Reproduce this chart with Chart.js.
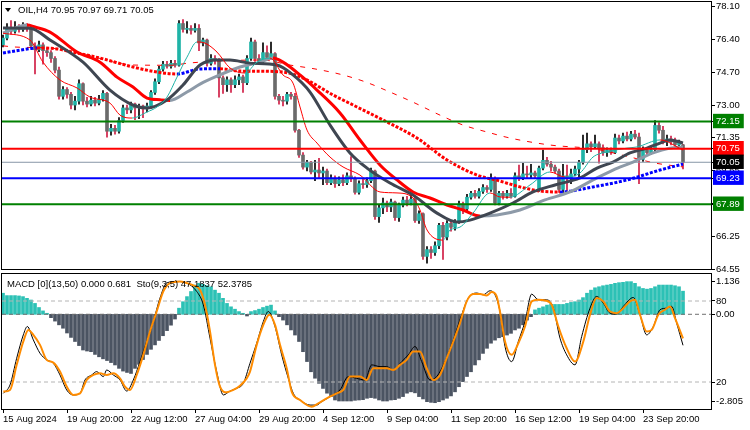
<!DOCTYPE html>
<html>
<head>
<meta charset="UTF-8">
<title>OIL H4</title>
<script src="https://cdn.jsdelivr.net/npm/chart.js@4.4.1/dist/chart.umd.min.js"></script>
<style>
  body { margin: 0; background: #fff; }
  #wrap { position: relative; width: 750px; height: 430px; overflow: hidden; font-family: "Liberation Sans", Arial, sans-serif; }
  #mainCanvas { position: absolute; left: 0; top: 0; }
  #subCanvas { position: absolute; left: 0; top: 271px; }
  .txt { position: absolute; font-size: 9.5px; line-height: 12px; color: #000; white-space: pre; z-index: 2; }
  #tri { position: absolute; left: 5px; top: 8px; width: 0; height: 0; border-left: 3px solid transparent; border-right: 3px solid transparent; border-top: 4px solid #000; z-index: 2; }
</style>
</head>
<body>
<div id="wrap">
  <canvas id="mainCanvas" width="750" height="276"></canvas>
  <canvas id="subCanvas" width="750" height="159"></canvas>
  <div id="tri"></div>
  <div class="txt" style="left:18px; top:4px;">OIL,H4 70.95 70.97 69.71 70.05</div>
  <div class="txt" style="left:7px; top:278px;">MACD [0](13,50) 0.000 0.681  Sto(9,3,5) 47.1837 52.3785</div>
</div>

<script>
// ---- price bars (H4), one per bar index ----
const opens = [
  76.10,76.45,76.95,76.80,77.00,76.90,77.05,76.95,76.05,75.85,
  76.10,75.80,75.70,75.40,74.80,73.45,73.80,73.55,73.00,73.20,
  74.10,73.20,73.05,73.25,73.10,73.30,73.60,71.65,71.80,71.65,
  72.20,72.85,72.75,73.05,72.85,72.95,72.80,72.95,73.65,74.20,
  74.85,75.10,75.00,75.15,75.05,77.20,76.90,76.95,76.85,76.95,
  76.20,76.35,75.15,75.40,75.30,74.40,74.05,74.30,74.05,74.30,
  74.45,74.15,75.40,76.25,75.40,75.25,75.70,75.45,75.65,73.45,
  73.25,73.20,73.55,73.45,71.70,70.42,69.80,70.05,69.55,69.65,
  69.50,69.60,69.00,69.20,68.95,69.15,69.00,69.35,69.20,68.50,
  68.95,68.90,69.10,69.60,67.25,67.70,67.95,67.75,68.00,67.20,
  67.85,68.10,67.95,68.15,67.05,67.40,65.20,65.55,65.40,65.75,
  66.80,66.20,66.90,66.70,67.00,67.90,67.65,68.25,68.45,68.30,
  68.55,68.75,68.65,69.20,67.95,68.45,68.30,68.45,68.30,69.35,
  69.25,69.45,69.40,69.50,68.65,69.75,70.15,69.95,69.80,69.60,
  68.65,69.35,69.20,69.45,69.70,70.05,70.70,71.00,70.85,71.00,
  70.80,70.55,70.70,70.55,71.30,71.15,71.40,71.25,71.50,71.35,
  70.20,70.70,70.55,70.70,71.95,71.70,71.10,71.25,71.10,70.95,
  70.95
];
const highs = [
  76.60,77.20,77.35,77.30,77.15,77.25,77.20,77.05,76.20,76.30,
  76.20,75.95,75.80,75.50,74.95,73.95,73.90,73.65,73.45,74.30,
  74.15,73.40,73.45,73.40,73.50,73.75,73.65,72.00,71.95,72.35,
  73.00,73.00,73.15,73.10,73.05,73.00,73.10,73.75,74.35,75.00,
  75.25,75.25,75.30,75.30,77.35,77.40,77.30,77.10,77.20,77.15,
  76.45,76.40,75.60,75.55,75.40,74.50,74.45,74.40,74.50,74.60,
  74.55,75.55,76.45,76.35,75.60,76.20,76.05,76.25,75.70,73.55,
  73.45,73.65,73.65,73.60,71.75,70.55,70.15,70.10,70.15,70.25,
  69.80,69.70,69.40,69.35,69.30,69.40,69.50,70.35,69.30,69.10,
  69.20,69.25,69.75,69.65,67.85,68.20,68.05,68.15,68.05,67.95,
  68.25,68.30,68.35,68.30,67.55,67.45,65.70,65.70,65.95,66.90,
  66.95,67.05,67.00,67.10,68.05,68.00,68.40,68.55,68.60,68.70,
  68.90,68.85,69.45,69.30,68.55,68.55,68.60,68.70,69.50,69.90,
  70.00,69.85,69.95,69.60,69.85,70.68,70.30,70.10,69.90,69.70,
  69.95,69.90,69.70,69.85,70.15,71.45,71.55,71.10,71.45,71.10,
  70.95,70.80,70.80,71.50,71.45,71.55,71.60,71.65,71.70,71.55,
  70.85,70.80,70.85,72.20,72.10,71.90,71.45,71.40,71.30,71.20,
  70.97
];
const lows = [
  76.00,76.35,76.65,76.70,76.75,76.80,76.80,75.95,74.60,75.75,
  75.10,75.50,75.20,74.65,73.30,73.30,73.35,72.80,72.75,73.05,
  73.00,72.90,72.95,72.95,73.00,73.20,71.35,71.45,71.50,71.55,
  72.10,72.55,72.60,72.25,72.30,72.35,72.65,72.85,73.55,74.10,
  74.75,74.90,74.90,74.95,75.00,76.75,76.70,76.65,76.75,75.80,
  76.05,75.00,75.05,75.10,73.40,73.60,73.70,73.65,73.90,74.05,
  73.65,74.05,75.30,75.25,75.10,75.15,75.35,75.35,73.30,73.05,
  72.95,73.05,73.30,71.60,70.30,69.70,69.60,69.45,69.10,69.25,
  68.90,68.90,68.90,68.75,68.85,68.85,68.90,69.05,68.40,68.40,
  68.70,68.75,69.00,67.10,66.95,67.40,67.50,67.50,67.05,67.00,
  67.75,67.80,67.85,66.95,66.90,65.05,64.85,65.10,65.25,65.60,
  65.05,66.05,66.50,66.55,66.90,67.40,67.55,68.15,68.20,68.20,
  68.45,68.50,68.55,67.85,67.85,68.15,68.20,68.20,68.25,69.10,
  69.15,69.20,69.20,69.25,68.55,69.65,69.85,69.60,69.50,68.50,
  68.45,68.60,68.95,69.35,69.30,69.95,70.55,70.60,70.75,70.00,
  70.40,70.35,70.45,70.50,71.00,71.05,71.15,71.15,71.25,68.95,
  70.10,70.40,70.45,70.65,71.55,71.00,70.90,70.95,70.80,70.85,
  69.71
];
const closes = [
  76.45,76.95,76.80,77.00,76.90,77.05,76.95,76.05,75.85,76.10,
  75.80,75.70,75.40,74.80,73.45,73.80,73.55,73.00,73.20,74.10,
  73.20,73.05,73.25,73.10,73.30,73.60,71.65,71.80,71.65,72.20,
  72.85,72.75,73.05,72.85,72.95,72.80,72.95,73.65,74.20,74.85,
  75.10,75.00,75.15,75.05,77.20,76.90,76.95,76.85,76.95,76.20,
  76.35,75.15,75.40,75.30,74.40,74.05,74.30,74.05,74.30,74.45,
  74.15,75.40,76.25,75.40,75.25,75.70,75.45,75.65,73.45,73.25,
  73.20,73.55,73.45,71.70,70.42,69.80,70.05,69.55,69.65,69.50,
  69.60,69.00,69.20,68.95,69.15,69.00,69.35,69.20,68.50,68.95,
  68.90,69.10,69.60,67.25,67.70,67.95,67.75,68.00,67.20,67.85,
  68.10,67.95,68.15,67.05,67.40,65.20,65.55,65.40,65.75,66.80,
  66.20,66.90,66.70,67.00,67.90,67.65,68.25,68.45,68.30,68.55,
  68.75,68.65,69.20,67.95,68.45,68.30,68.45,68.30,69.35,69.25,
  69.45,69.40,69.50,69.35,69.75,70.15,69.95,69.80,69.60,68.65,
  69.35,69.20,69.45,69.70,70.05,70.70,71.00,70.85,71.00,70.80,
  70.55,70.70,70.55,71.30,71.15,71.40,71.25,71.50,71.35,70.20,
  70.70,70.55,70.70,71.95,71.70,71.10,71.25,71.10,70.95,71.05,
  70.05
];

// ---- moving averages as [bar, price] ----
const maFast = [[0,76.70],[6.75,76.35],[10,75.21],[14.25,74.29],[18.5,73.88],[21.75,73.41],[26.75,73.10],[29.25,72.48],[32.25,72.33],[36,72.64],[38.5,72.90],[41,73.41],[43.5,74.44],[46,75.47],[48.5,76.25],[50.5,76.19],[53.5,75.73],[56.75,74.91],[60.5,74.65],[63.5,75.21],[66.75,75.42],[70,74.55],[72.5,74.13],[74.25,72.90],[76,71.71],[78.5,71.04],[81.75,70.32],[85,69.81],[89.25,69.39],[94.25,68.52],[98.5,68.47],[102.5,68.21],[104.25,67.59],[106,66.56],[110,66.04],[111.75,66.56],[114.25,66.71],[117.5,67.43],[121.75,68.47],[124.25,68.26],[126.75,68.25],[131.75,68.88],[136.75,69.55],[140.5,69.29],[144.25,69.50],[147.5,70.32],[151,70.58],[156,70.78],[158.5,70.84],[164.25,71.20],[170,70.68]];
const maMid = [[0,76.71],[6,77.12],[8,77.02],[11.75,76.76],[18.5,75.73],[24.25,75.21],[28.5,74.44],[32.5,73.93],[36,73.36],[39.25,73.27],[41.75,73.24],[46,73.67],[49.25,74.08],[53.5,74.49],[59.25,74.96],[64.25,75.21],[67.5,75.42],[70,75.21],[74.25,74.55],[78.5,73.77],[84.25,72.59],[89.25,71.20],[94.25,69.91],[98.5,69.14],[102.5,68.52],[106.75,68.21],[111,67.85],[115,67.59],[119.25,67.28],[123.5,67.33],[129.25,67.59],[135.5,68.11],[141.75,68.52],[147.5,69.14],[152.5,69.65],[157.5,70.06],[162.5,70.53],[166.75,70.78],[170,70.84]];
const maSlow = [[0,76.97],[6.75,76.96],[11.75,76.35],[20,75.21],[26.75,73.77],[32.5,73.00],[36,72.85],[41,73.26],[45,74.03],[49.25,75.06],[53.5,75.32],[56.75,75.32],[61.75,75.16],[68.5,75.06],[72.5,74.55],[76.75,73.67],[81.75,71.97],[86.75,70.53],[91,69.75],[96.75,68.98],[102.5,68.36],[108.5,67.43],[113.5,66.97],[116.75,67.07],[121.75,67.43],[127.5,67.95],[132.5,68.52],[138,68.88],[144.25,69.24],[148.5,69.75],[152.5,70.06],[156.75,70.53],[161,70.78],[164.25,71.04],[166.75,71.20],[170,71.04]];
const maDots = [[0,75.68],[4.25,75.83],[8.5,75.94],[11.75,75.93],[18.5,75.68],[24.25,75.42],[32.5,74.96],[38.5,74.70],[43.5,74.60],[49.25,74.86],[54.25,74.87],[59.25,74.75],[64.25,74.74],[70,74.70],[75,74.39],[82.5,73.52],[88.5,72.90],[95,72.23],[103.5,71.30],[111,70.17],[118.5,69.39],[124.25,69.08],[129.25,68.78],[134.25,68.57],[139.25,68.52],[147.5,68.78],[156,69.14],[164.25,69.65],[170,69.96]];
const maLong = [[0,76.05],[3,75.99],[11.25,75.94],[16.25,75.83],[19.25,75.68],[33,75.06],[42.25,75.05],[46.25,75.16],[64.75,75.32],[71.75,75.06],[78,74.86],[85,74.55],[90.75,74.18],[96.75,73.67],[103,73.10],[109.25,72.48],[115,71.97],[121,71.61],[126.75,71.30],[136.75,70.94],[148,70.73],[156.75,70.32],[163,70.01],[170,69.81]];

// ---- horizontal levels and axis ticks ----
const levelPrices = [72.15, 70.75, 70.05, 69.23, 67.89];
const levelColors = ['#008000', '#ff0000', '#000000', '#0000ff', '#008000'];
const priceTicks = [78.10, 76.40, 74.70, 73.00, 71.35, 69.65, 67.95, 66.25, 64.55];
const dateTickBars = [0, 16, 32, 48, 64, 80, 96, 112, 128, 144, 160];
const dateLabels = ['15 Aug 2024', '19 Aug 20:00', '22 Aug 12:00', '27 Aug 04:00', '29 Aug 20:00', '4 Sep 12:00', '9 Sep 04:00', '11 Sep 20:00', '16 Sep 12:00', '19 Sep 04:00', '23 Sep 20:00'];

// ---- MACD histogram (one per bar) and stochastic ----
const macdHist = [
  0.62,0.55,0.55,0.55,0.54,0.52,0.47,0.42,0.32,0.20,0.10,0.03,
  -0.10,-0.20,-0.31,-0.41,-0.55,-0.68,-0.80,-0.92,-1.05,-1.08,-1.10,-1.18,-1.25,-1.31,-1.36,-1.42,-1.49,-1.59,-1.67,-1.71,
  -1.74,-1.59,-1.47,-1.33,-1.18,-1.03,-0.90,-0.77,-0.63,-0.48,-0.32,-0.14,
  0.18,0.37,0.52,0.67,0.86,0.91,0.88,0.84,0.81,0.71,0.62,0.47,0.32,0.22,0.15,0.08,0.03,
  -0.05,
  0.08,0.11,0.15,0.20,0.24,0.27,0.10,
  -0.07,-0.17,-0.31,-0.46,-0.61,-0.80,-1.10,-1.39,-1.69,-1.88,-2.03,-2.18,-2.32,-2.42,-2.52,-2.55,-2.55,-2.55,-2.55,
  -2.53,-2.52,-2.51,-2.47,-2.45,-2.47,-2.52,-2.55,-2.55,-2.52,-2.51,-2.47,-2.42,-2.32,-2.28,-2.31,-2.42,-2.49,-2.57,
  -2.59,-2.60,-2.57,-2.52,-2.47,-2.40,-2.28,-2.13,-1.98,-1.83,-1.69,-1.49,-1.34,-1.15,-1.00,-0.85,-0.76,
  -0.69,-0.66,-0.61,-0.56,-0.46,-0.41,-0.31,-0.17,-0.07,
  0.13,0.18,0.22,0.27,0.29,0.29,0.29,0.29,0.32,0.35,0.37,0.42,0.49,0.62,0.71,0.78,
  0.81,0.84,0.86,0.88,0.91,0.93,0.94,0.96,0.96,0.91,0.81,0.76,0.74,0.76,0.81,0.86,
  0.86,0.86,0.86,0.84,0.81,0.68
];
const stochMain = [[0.08,11.6],[1.75,17.8],[3.42,37.6],[5.08,54.9],[6.08,61.1],[7.58,51.2],[9.25,41.3],[10.92,36.4],[12.58,33.9],[14.25,25.2],[15.92,14.1],[17.58,10.4],[19.25,11.6],[20.5,21.5],[22.17,25.2],[23.42,27.7],[25.08,24.0],[25.92,28.9],[27.58,25.2],[29.25,21.5],[30.92,13.3],[32.58,21.5],[34.25,35.1],[35.92,50.0],[37.58,64.8],[39.25,82.2],[40.92,93.3],[43.42,94.5],[45.92,93.3],[48.42,87.1],[50.08,77.2],[51.75,52.5],[53.42,27.7],[55.08,10.4],[56.75,13.3],[58.42,15.3],[60.08,19.0],[61.75,33.9],[63.42,48.7],[65.08,64.8],[66.33,72.2],[68,61.1],[69.67,40.1],[71.33,22.7],[72.58,11.6],[74.25,6.7],[76.75,2.9],[78.42,2.9],[79.67,5.4],[81.75,9.1],[84.25,14.1],[86.33,24.0],[88.42,22.7],[90.5,21.5],[92.17,32.7],[94.25,31.4],[95.92,31.4],[97.58,28.9],[99.67,35.1],[101.33,40.1],[103,46.3],[104.67,35.1],[106.75,21.5],[108.42,24.0],[110.5,35.1],[112.58,51.2],[114.67,69.8],[116.33,82.2],[118.42,85.9],[120.08,84.6],[121.75,87.6],[123,84.6],[124.25,72.2],[125.5,46.3],[127.17,35.1],[128.83,50.0],[130.5,64.8],[132.17,85.1],[133.83,80.9],[135.92,80.9],[137.58,74.7],[139.25,52.5],[140.92,40.1],[143,32.7],[144.67,53.7],[146.75,74.7],[148.42,83.4],[150.08,78.4],[151.75,71.0],[153.42,70.3],[155.08,76.0],[157.58,82.6],[159.25,69.8],[160.92,54.9],[162.58,61.1],[164.25,73.5],[165.92,74.7],[167.17,76.0],[168.42,63.6],[170,47.18]];
const stochSignal = [[0.08,12.9],[1.75,14.1],[3.42,32.7],[5.08,50.0],[6.33,58.6],[7.58,54.9],[9.25,47.5],[10.92,36.4],[12.58,34.4],[14.25,27.7],[15.92,16.6],[17.58,10.4],[19.25,11.6],[20.92,21.5],[22.58,25.2],[24.25,26.5],[25.92,25.2],[27.58,26.5],[29.25,22.7],[30.5,16.6],[31.75,14.1],[33.42,25.2],[35.08,40.1],[36.75,57.4],[38.42,72.2],[40.08,87.1],[41.75,93.3],[44.25,94.5],[45.92,93.3],[47.58,91.6],[49.25,88.3],[50.5,77.2],[51.75,57.4],[53,32.7],[54.25,16.6],[55.92,12.4],[57.58,14.1],[59.25,17.3],[60.92,22.7],[61.75,27.7],[63.42,47.5],[65.08,62.3],[66.58,69.8],[68,62.3],[69.25,47.5],[70.92,30.2],[72.17,12.9],[74.25,6.7],[77.17,1.7],[78.83,4.2],[80.92,7.9],[83.42,11.6],[85.08,14.1],[86.75,24.0],[89.25,24.0],[90.92,21.5],[92.58,30.2],[94.25,30.2],[95.92,30.2],[97.58,28.9],[99.25,32.7],[100.92,36.4],[102.58,42.6],[104.25,42.6],[105.92,30.2],[107.58,21.5],[109.25,25.2],[110.92,37.6],[112.58,50.0],[114.25,63.6],[115.92,79.7],[117.58,85.1],[119.25,85.1],[120.92,84.1],[122.17,86.6],[123.42,83.4],[124.25,72.0],[125.5,50.0],[127.17,40.1],[128.83,48.7],[130.5,61.1],[132.17,79.7],[133.83,80.9],[135.5,80.4],[137.17,77.2],[138.83,61.1],[140.92,45.0],[143,35.1],[145.08,50.0],[146.75,69.8],[148.42,82.2],[150.08,79.7],[151.75,72.2],[153.42,71.0],[155.08,74.7],[156.75,79.7],[158,80.9],[159.25,69.8],[160.92,57.4],[162.17,58.6],[163.83,69.8],[165.5,73.5],[166.75,76.0],[168,67.3],[170,52.38]];
const stochLevels = [80, 20];

const xMin = -0.25, xMax = 177;
const macdMin = -2.785, macdMax = 1.185;

const TEAL = '#1fb3a7', GREY = '#6b6b6b', CRIMSON = '#d01c44';
const font = { family: '"Liberation Sans", Arial, sans-serif', size: 9.5 };

const pts = arr => arr.map(p => ({ x: p[0], y: p[1] }));
const hline = y => [{ x: xMin, y: y }, { x: xMax, y: y }];
const slopeColor = (down, up) => ctx => ctx.p1.parsed.y < ctx.p0.parsed.y ? down : up;
// keep the plot area where the layout padding puts it
const noEdgePadding = s => { s.paddingTop = 0; s.paddingBottom = 0; s.paddingLeft = 0; s.paddingRight = 0; };

// draws the black frame round the plot area
const framePlugin = {
  id: 'frame',
  afterDraw(chart) {
    const { ctx, chartArea: a } = chart;
    ctx.save();
    ctx.strokeStyle = '#000';
    ctx.lineWidth = 1;
    ctx.strokeRect(a.left - 0.5, a.top - 0.5, a.right - a.left + 1, a.bottom - a.top + 1);
    ctx.restore();
  }
};

const common = {
  responsive: false,
  animation: false,
  events: [],
  plugins: { legend: { display: false }, tooltip: { enabled: false } }
};

// ---------- main price panel ----------
const mainSets = [];
levelPrices.forEach((p, k) => {
  mainSets.push({
    type: 'line', data: hline(p), borderColor: k === 2 ? '#8796a6' : levelColors[k],
    borderWidth: k === 2 ? 1 : 2, pointRadius: 0, order: 0
  });
});
mainSets.push({ type: 'line', data: pts(maFast), borderColor: TEAL, borderWidth: 1, pointRadius: 0,
  cubicInterpolationMode: 'monotone', segment: { borderColor: slopeColor('#ff0000', TEAL) }, order: 1 });
mainSets.push({ type: 'line', data: pts(maSlow), borderColor: '#3f4651', borderWidth: 3, pointRadius: 0,
  cubicInterpolationMode: 'monotone', order: 2 });
mainSets.push({ type: 'line', data: pts(maMid), borderColor: '#8d9aa8', borderWidth: 3, pointRadius: 0,
  cubicInterpolationMode: 'monotone', segment: { borderColor: slopeColor('#ff0000', '#8d9aa8') }, order: 2 });
mainSets.push({ type: 'line', data: pts(maDots), borderColor: '#0000ff', borderWidth: 3, pointRadius: 0,
  borderDash: [3, 1.6], cubicInterpolationMode: 'monotone', segment: { borderColor: slopeColor('#ff0000', '#0000ff') }, order: 3 });
mainSets.push({ type: 'line', data: pts(maLong), borderColor: '#ff0000', borderWidth: 1, pointRadius: 0,
  borderDash: [5, 7], cubicInterpolationMode: 'monotone', order: 3 });
mainSets.push({ type: 'bar', data: opens.map((o, i) => ({ x: i, y: [o, closes[i]] })),
  backgroundColor: opens.map((o, i) => closes[i] >= o ? TEAL : GREY), barThickness: 3, grouped: false, order: 5 });
mainSets.push({ type: 'bar', data: highs.map((h, i) => ({ x: i, y: [lows[i], h] })),
  backgroundColor: opens.map((o, i) => closes[i] >= o ? '#000000' : CRIMSON), barThickness: 1, grouped: false, order: 6 });

new Chart(document.getElementById('mainCanvas'), {
  type: 'bar',
  data: { datasets: mainSets },
  plugins: [framePlugin],
  options: Object.assign({}, common, {
    layout: { padding: { left: 2, top: 2, right: 0, bottom: 7 } },
    scales: {
      x: { type: 'linear', min: xMin, max: xMax, offset: false, display: false },
      y: {
        type: 'linear', position: 'right', min: 64.55, max: 78.31,
        afterBuildTicks: s => { s.ticks = priceTicks.concat(levelPrices).map(v => ({ value: v })); },
        afterFit: s => { s.width = 39; noEdgePadding(s); },
        grid: { drawOnChartArea: false, drawTicks: true, tickLength: 4, color: '#000' },
        border: { display: true, color: '#000' },
        ticks: {
          autoSkip: false, padding: 1, font: font,
          color: ctx => ctx.index >= priceTicks.length ? '#ffffff' : '#000000',
          showLabelBackdrop: ctx => ctx.index >= priceTicks.length,
          backdropColor: ctx => levelColors[ctx.index - priceTicks.length] || 'rgba(0,0,0,0)',
          backdropPadding: { left: 3, right: 4, top: 2, bottom: 1 },
          callback: v => Number(v).toFixed(2)
        }
      }
    }
  })
});

// ---------- MACD + stochastic panel ----------
const zeroStoch = 100 * (0 - macdMin) / (macdMax - macdMin);
const lowerTickValues = [94.8, 80, zeroStoch, 20, 5.9];
const lowerTickText = ['1.136', '80', '0.00', '20', '-2.805'];

const subSets = [
  { type: 'line', data: pts(stochSignal), yAxisID: 'ys', borderColor: '#ff8c00', borderWidth: 2, pointRadius: 0,
    cubicInterpolationMode: 'monotone', order: 0 },
  { type: 'line', data: pts(stochMain), yAxisID: 'ys', borderColor: '#000000', borderWidth: 1, pointRadius: 0,
    cubicInterpolationMode: 'monotone', order: 1 },
  { type: 'line', data: hline(stochLevels[0]), yAxisID: 'ys', borderColor: '#b4b4b4', borderWidth: 1, borderDash: [4, 3], pointRadius: 0, order: 2 },
  { type: 'line', data: hline(stochLevels[1]), yAxisID: 'ys', borderColor: '#b4b4b4', borderWidth: 1, borderDash: [4, 3], pointRadius: 0, order: 2 },
  { type: 'line', data: hline(0), yAxisID: 'ym', borderColor: '#707070', borderWidth: 1, borderDash: [4, 3], pointRadius: 0, order: 2 },
  { type: 'bar', data: macdHist.map((v, i) => ({ x: i, y: v })), yAxisID: 'ym',
    backgroundColor: macdHist.map(v => v >= 0 ? '#2cc1b5' : '#4b5462'), barThickness: 3, grouped: false, order: 3 }
];

new Chart(document.getElementById('subCanvas'), {
  type: 'bar',
  data: { datasets: subSets },
  plugins: [framePlugin],
  options: Object.assign({}, common, {
    layout: { padding: { left: 2, top: 3, right: 0, bottom: 0 } },
    scales: {
      x: {
        type: 'linear', min: xMin, max: xMax, offset: false,
        afterBuildTicks: s => { s.ticks = dateTickBars.map(v => ({ value: v })); },
        afterFit: s => { s.height = 21; noEdgePadding(s); },
        grid: { drawOnChartArea: false, drawTicks: true, tickLength: 4, color: '#000', offset: false },
        border: { display: true, color: '#000' },
        ticks: { autoSkip: false, maxRotation: 0, align: 'start', padding: 1, font: font, color: '#000',
          callback: (v, i) => dateLabels[i] }
      },
      ys: {
        type: 'linear', position: 'right', min: 0, max: 100,
        afterBuildTicks: s => { s.ticks = lowerTickValues.map(v => ({ value: v })); },
        afterFit: s => { s.width = 39; noEdgePadding(s); },
        grid: { drawOnChartArea: false, drawTicks: true, tickLength: 4, color: '#000' },
        border: { display: true, color: '#000' },
        ticks: { autoSkip: false, padding: 1, font: font, color: '#000', callback: (v, i) => lowerTickText[i] }
      },
      ym: { type: 'linear', display: false, min: macdMin, max: macdMax }
    }
  })
});
</script>
</body>
</html>
